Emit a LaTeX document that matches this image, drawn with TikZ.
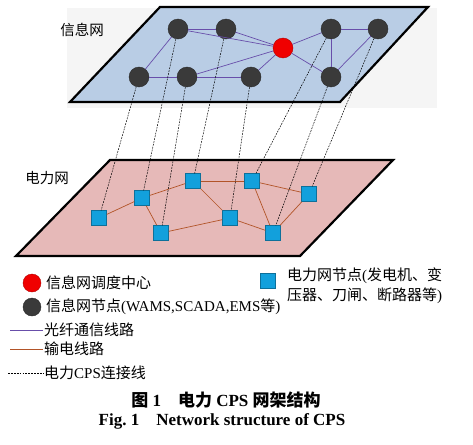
\documentclass[tikz,border=0pt]{standalone}
\usepackage{fontspec}
\setmainfont{Liberation Serif}
\newfontfamily\cjk{Noto Sans CJK SC}
\usepackage{tikz}
\usetikzlibrary{positioning}
\usepackage{xcolor}
\definecolor{infoplane}{RGB}{185,205,229}
\definecolor{powerplane}{RGB}{230,185,184}
\definecolor{infodark}{RGB}{58,58,58}
\definecolor{ctrred}{RGB}{240,0,0}
\definecolor{pwblue}{RGB}{18,160,220}
\definecolor{fibercolor}{RGB}{104,78,170}
\definecolor{linecolor}{RGB}{178,84,40}
\tikzset{
  plane/.style={draw=black,line width=2.2pt,line join=miter},
  infonode/.style={circle,fill=infodark,draw=infodark!70!black,minimum size=20pt,inner sep=0pt},
  ctrnode/.style={circle,fill=ctrred,draw=ctrred!75!black,minimum size=20pt,inner sep=0pt},
  pwnode/.style={rectangle,fill=pwblue,draw=pwblue!70!black,minimum size=15pt,inner sep=0pt},
  fiber/.style={fibercolor,line width=0.7pt},
  trline/.style={linecolor,line width=0.7pt},
  cpslink/.style={black,dash pattern=on 1.8pt off 1.1pt,line width=0.5pt},
  legtext/.style={anchor=west,inner sep=1pt,font=\fontsize{15pt}{20pt}\selectfont}
}

\begin{document}
\begin{tikzpicture}[x=1pt,y=-1pt]
\useasboundingbox (0,0) rectangle (473,444);

% planes
\fill[black!4] (67,8) rectangle (437,108);
\draw[plane,fill=infoplane] (160,7) -- (428,7) -- (340,102) -- (70,102) -- cycle;
\draw[plane,fill=powerplane] (110,160) -- (393,160) -- (300,256) -- (16,256) -- cycle;
\node[font=\cjk\fontsize{14.5pt}{16pt}\selectfont] (infolbl) at (82,30) {信息网};
\node[font=\cjk\fontsize{14.5pt}{16pt}\selectfont] (pwlbl) at (47,178) {电力网};

% information network
\foreach \n/\x/\y in {a1/178/29,a2/226/29,a3/331/29,a4/378/29,b1/139/77,b2/187/77,b3/251/77,b4/331/77}
  \node[infonode] (\n) at (\x,\y) {};
\node[ctrnode] (ctr) at (283,48) {};
\foreach \u/\v in {a1/a2,a1/b1,a1/ctr,a2/ctr,b2/ctr,b3/ctr,b1/b2,b2/b3,ctr/a3,ctr/b4,a3/a4,a3/b4,b4/a4}
  \draw[fiber] (\u) -- (\v);

% power network
\foreach \n/\x/\y in {p1/99/218,p2/142/198,p3/161/233,p4/193/181,p5/230/218,p6/252/181,p7/273/233,p8/309/194}
  \node[pwnode] (\n) at (\x,\y) {};
\foreach \u/\v in {p1/p2,p2/p4,p2/p3,p3/p5,p4/p6,p4/p5,p5/p7,p6/p8,p6/p7,p7/p8}
  \draw[trline] (\u) -- (\v);

% CPS links
\foreach \u/\v in {b1/p1,a1/p2,b2/p3,a2/p4,b3/p5,a3/p6,b4/p7,a4/p8}
  \draw[cpslink] (\u) -- (\v);

% legend
\node[ctrnode,minimum size=18pt] (lgctr) at (32,283) {};
\node[legtext] (lgctrtxt) at (45,283) {\cjk 信息网调度中心};
\node[infonode,minimum size=18pt] (lginfo) at (32,307) {};
\node[legtext] (lginfotxt) at (45,307) {{\cjk 信息网节点}(WAMS,SCADA,EMS{\cjk 等})};
\coordinate (lgf1) at (10,330);
\coordinate (lgf2) at (43,330);
\draw[fiber] (lgf1) -- (lgf2);
\node[legtext] (lgfibtxt) at (lgf2) {\cjk 光纤通信线路};
\coordinate (lgt1) at (10,349);
\coordinate (lgt2) at (43,349);
\draw[trline] (lgt1) -- (lgt2);
\node[legtext] (lgtrtxt) at (lgt2) {\cjk 输电线路};
\coordinate (lgc1) at (8,373);
\coordinate (lgc2) at (43,373);
\draw[cpslink] (lgc1) -- (lgc2);
\node[legtext] (lgcpstxt) at (lgc2) {{\cjk 电力}CPS{\cjk 连接线}};
\node[pwnode] (lgpw) at (268,281) {};
\node[legtext,anchor=north west,align=left] (lgpwtxt) at (286,267) {{\cjk 电力网节点}({\cjk 发电机、变}\\{\cjk 压器、刀闸、断路器等})};

% caption
\node[font=\bfseries\fontsize{17pt}{19pt}\selectfont] (cap1) at (226,400) {{\cjk 图}~1\quad{\cjk 电力}~CPS~{\cjk 网架结构}};
\node[font=\bfseries\fontsize{17pt}{19pt}\selectfont] (cap2) at (222,421) {Fig.~1\quad Network structure of CPS};
\end{tikzpicture}
\end{document}
